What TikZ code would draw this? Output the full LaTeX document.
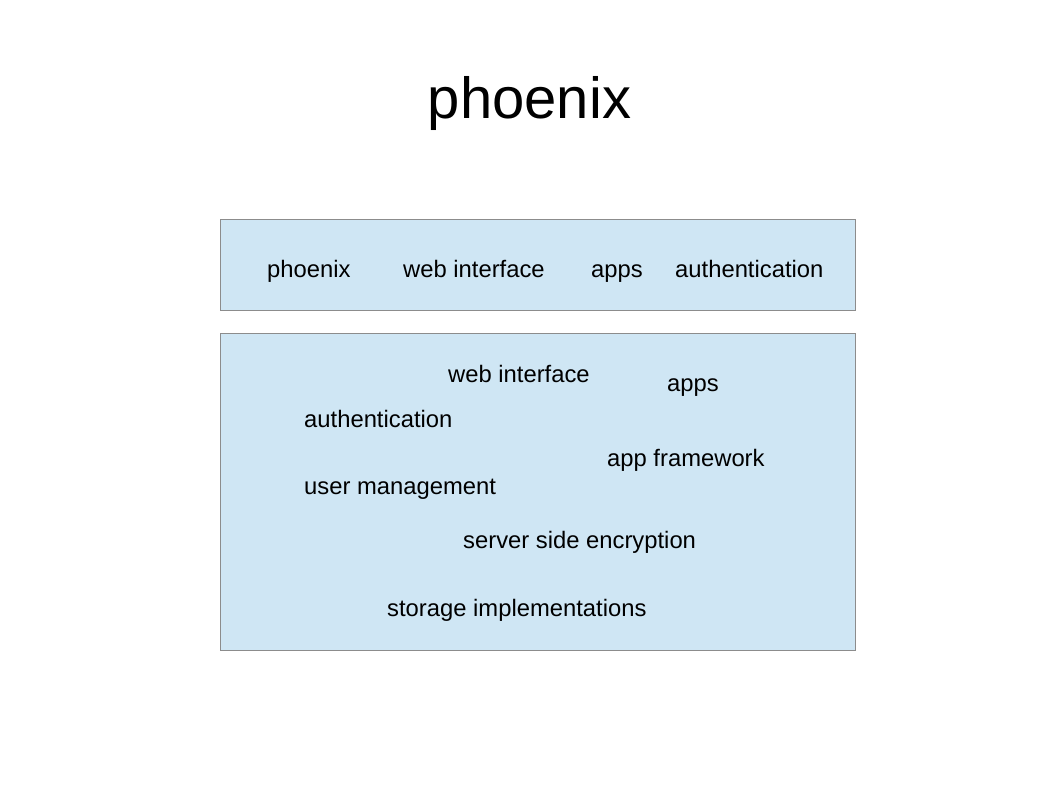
\documentclass[tikz,border=0pt]{standalone}
\usepackage{fontspec}
\setmainfont{Liberation Sans}
\definecolor{boxfill}{HTML}{CFE6F4}
\definecolor{boxline}{HTML}{8C8C8C}
\begin{document}
\begin{tikzpicture}[x=1pt,y=-1pt,
  lbl/.style={anchor=base west,inner sep=0pt,font=\fontsize{23.8}{28}\selectfont},
  panel/.style={draw=boxline,fill=boxfill,line width=0.8pt}]
\useasboundingbox (0,0) rectangle (1058,794);
\node[anchor=base,inner sep=0pt,font=\fontsize{58}{66}\selectfont] (title) at (529.5,119) {phoenix};
\draw[panel] (220,219.5) rectangle (855,310);
\draw[panel] (220,333) rectangle (855,650);
\node[lbl] (t1) at (267,277.5) {phoenix};
\node[lbl] (t2) at (403,277.5) {web interface};
\node[lbl] (t3) at (591,277.5) {apps};
\node[lbl] (t4) at (675,277.5) {authentication};
\node[lbl] (b1) at (448,383) {web interface};
\node[lbl] (b2) at (667,391.5) {apps};
\node[lbl] (b3) at (304,428) {authentication};
\node[lbl] (b4) at (607,466.5) {app framework};
\node[lbl] (b5) at (304,494.5) {user management};
\node[lbl] (b6) at (463,548.5) {server side encryption};
\node[lbl] (b7) at (387,616.5) {storage implementations};
\end{tikzpicture}
\end{document}
